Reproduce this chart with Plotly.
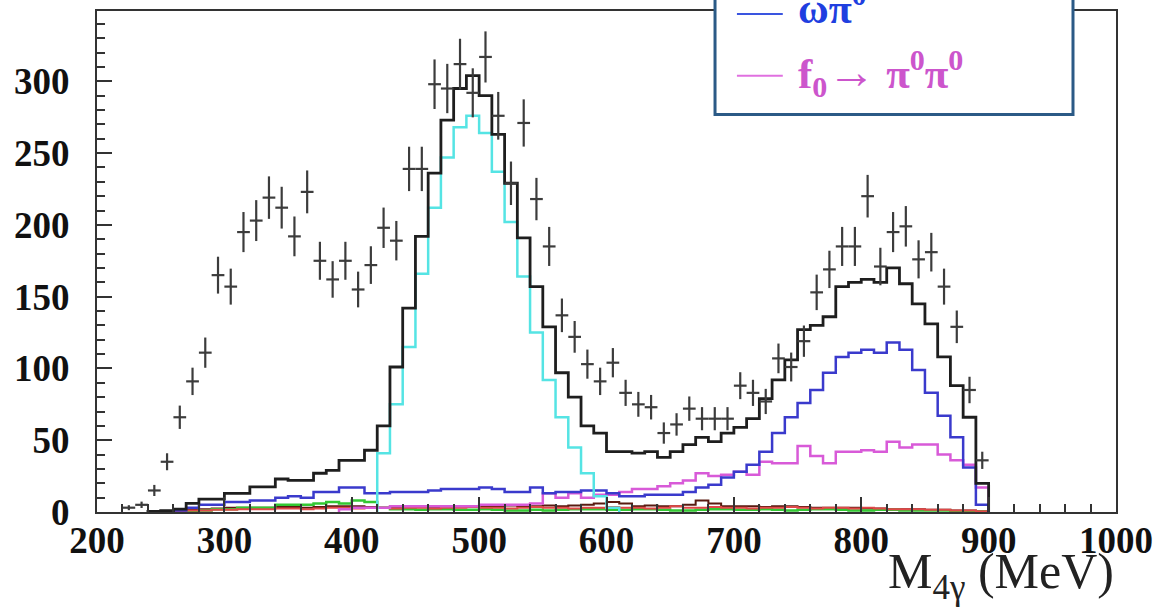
import numpy as np
import plotly.graph_objects as go

# ---- histogram binning (MeV) ----
bin_lo = list(range(200, 900, 10))
BIN_W = 10

# Monte Carlo total
mc_total = [0, 0, 0, 0, 0.5, 1, 2, 6, 9, 9,
            13, 13, 17.5, 17.5, 23, 22, 22, 27, 29, 36,
            36, 43, 60, 101, 142, 192, 236, 273, 295, 304,
            290, 263, 229, 191, 157, 129, 97, 80, 60, 55,
            42, 42, 41, 42, 38, 42, 47, 52, 49, 55,
            59, 65, 79, 92, 106, 127, 130, 136, 157, 160,
            162, 160, 170, 159, 145, 131, 108, 88, 66, 20]

# peaking component around 500 MeV
mc_cyan = [0] * 22 + [41, 75, 115, 166, 212, 247, 268, 276, 264, 237,
                      202, 164, 125, 92, 66, 45, 27, 11, 3] + [0] * 29

# omega pi0
mc_omega = [0, 0, 0, 0, 0, 0, 1, 3, 5, 5,
            7, 7, 8, 8, 10, 11, 10, 14, 14, 17,
            17, 13, 13, 14, 14, 14, 15, 16, 16, 16,
            17, 16, 14, 14, 17, 13, 14, 14, 15, 15,
            13, 11, 11, 12, 12, 12, 14, 17, 19, 24,
            28, 33, 42, 55, 66, 76, 85, 97, 108, 111,
            113, 111, 118, 113, 99, 83, 67, 52, 31, 5]

# f0 -> pi0 pi0
mc_f0 = [0] * 19 + [2, 3, 3, 3, 4, 4, 4, 4, 4, 4,
                    4, 5, 5, 5, 5, 6,
                    13, 10, 13, 10, 12, 12, 14, 16, 16, 18,
                    20, 22, 27, 25, 26, 28, 26, 35, 34, 34,
                    46, 39, 34, 42, 42, 43, 42, 49, 45, 47,
                    47, 40, 36, 33, 17]

# small backgrounds
mc_green = [0] * 7 + [0.5, 1, 2, 2, 3, 3, 3, 5, 5, 5, 6, 7, 6, 8, 7, 3,
                      2, 2, 1.5, 2, 2, 1.5, 1.5, 2, 1.5, 1,
                      1, 1.5, 1, 1.5, 2, 2, 2, 1.5, 1.5, 2,
                      2, 1.5, 1, 1, 1.5, 2, 2, 1.5, 1.5, 2,
                      1.5, 1, 1.5, 2, 2, 1.5, 1, 1, 1.5, 1.5,
                      1, 1, 1, 1, 0.5, 0.5, 0.5]
mc_red = [0] * 6 + [0.5, 1, 1, 1.5, 1.5, 2, 2, 2, 2.5, 2.5, 2, 2.5, 3, 3,
                    2.5, 3, 3, 2.5, 3, 3, 2.5, 3, 3, 3.5,
                    3, 3, 2.5, 3, 3.5, 3, 3, 2.5, 3, 3,
                    3.5, 3, 3, 2.5, 3, 4, 3, 3, 3.5, 3,
                    3, 2.5, 3, 3, 3.5, 3, 2.5, 3, 3, 2.5,
                    3, 2.5, 2, 2, 2, 1.5, 1.5, 1, 1, 0.5]
mc_dark = [0] * 5 + [0.5, 1, 2, 2, 2.5, 3, 3, 3, 3, 3.5, 3.5, 3, 3.5, 4, 4,
                     4, 3.5, 3, 3, 3, 3.5, 3.5, 3.5, 4, 4,
                     4, 4, 4.5, 4, 4, 4.5, 4, 4.5, 5, 6,
                     7, 6, 4, 4.5, 4, 4, 5, 8, 6, 4,
                     4, 4, 3.5, 4, 4, 3.5, 3, 3, 3, 3,
                     2.5, 2.5, 2, 2, 2, 1.5, 1.5, 1, 1, 0.5]

# measured spectrum
data_x = list(range(225, 900, 10))
data_y = [3, 5, 15, 35, 66, 91, 111, 165, 157, 195,
          203, 219, 212, 192, 223, 175, 162, 175, 155, 172,
          198, 189, 239, 239, 298, 295, 312, 292, 317, 276,
          229, 271, 218, 185, 137, 122, 103, 91, 104, 83,
          75, 73, 55, 61, 72, 65, 65, 65, 88, 83,
          77, 107, 101, 119, 153, 169, 185, 185, 220, 171,
          195, 199, 176, 181, 157, 129, 85, 36]

x_ticks = [200, 300, 400, 500, 600, 700, 800, 900, 1000]
y_ticks = [0, 50, 100, 150, 200, 250, 300]

SERIF = "Liberation Serif"


def step_trace(values, color, width=2.5):
    """Outline histogram drawn as an hv step line over the non-empty bins."""
    nz = [i for i, v in enumerate(values) if v > 0]
    i0, i1 = nz[0], nz[-1]
    edges = [bin_lo[i] for i in range(i0, i1 + 1)] + [bin_lo[i1] + BIN_W]
    xs = [edges[0]] + edges
    ys = [0] + list(values[i0:i1 + 1]) + [0]
    return go.Scatter(x=xs, y=ys, mode="lines", line=dict(color=color, width=width, shape="hv"),
                      hoverinfo="skip", showlegend=False)


fig = go.Figure()
fig.add_trace(step_trace(mc_dark, "#5a1a10", 2))
fig.add_trace(step_trace(mc_green, "#33c833", 2.5))
fig.add_trace(step_trace(mc_red, "#e04848", 2))
fig.add_trace(step_trace(mc_f0, "#d85ad8"))
fig.add_trace(step_trace(mc_omega, "#3a3acc"))
fig.add_trace(step_trace(mc_cyan, "#55e4e4"))
fig.add_trace(step_trace(mc_total, "#1e1e1e", 2.8))

err = np.sqrt(np.array(data_y, dtype=float))
fig.add_trace(go.Scatter(
    x=data_x, y=data_y, mode="markers",
    marker=dict(size=1, color="#3c3c3c"),
    error_y=dict(type="data", array=err, width=0, thickness=2.2, color="#3c3c3c"),
    error_x=dict(type="constant", value=BIN_W / 2, width=0, thickness=2.2, color="#3c3c3c"),
    showlegend=False, hoverinfo="skip",
))

axis_common = dict(
    showline=True, linecolor="#333333", linewidth=2, mirror=True,
    ticks="inside", tickcolor="#333333", tickwidth=2, ticklen=15,
    showgrid=False, zeroline=False,
    tickfont=dict(family=SERIF, size=37, color="#111111", weight="bold"),
)

fig.update_xaxes(range=[200, 1000], tickvals=x_ticks, ticktext=[str(v) for v in x_ticks],
                 ticklabelstandoff=-5,
                 minor=dict(ticks="inside", dtick=20, ticklen=8, tickwidth=1.5, tickcolor="#333333"),
                 **axis_common)
fig.update_yaxes(range=[0, 349], tickvals=y_ticks, ticktext=[str(v) for v in y_ticks],
                 ticklabelstandoff=18,
                 minor=dict(ticks="inside", dtick=10, ticklen=8, tickwidth=1.5, tickcolor="#333333"),
                 **axis_common)

# legend panel (extends beyond the top edge of the canvas)
fig.add_shape(type="rect", xref="paper", yref="paper", x0=0.6065, x1=0.9578, y0=0.7932, y1=1.2,
              line=dict(color="#2b5a86", width=3), fillcolor="white", layer="above")
fig.add_shape(type="line", xref="paper", yref="paper", x0=0.628, x1=0.673, y0=0.994, y1=0.994,
              line=dict(color="#3a55e0", width=2), layer="above")
fig.add_shape(type="line", xref="paper", yref="paper", x0=0.628, x1=0.673, y0=0.871, y1=0.871,
              line=dict(color="#e070e0", width=2), layer="above")
fig.add_annotation(xref="paper", yref="paper", x=0.686, y=1.01, xanchor="left", yanchor="middle",
                   text="ωπ<sup>0</sup>", showarrow=False,
                   font=dict(family=SERIF, size=42, color="#1f3fe0", weight="bold"))
fig.add_annotation(xref="paper", yref="paper", x=0.686, y=0.875, xanchor="left", yanchor="middle",
                   text="f<sub>0</sub><span style='font-size:48px'>→</span> π<sup>0</sup>π<sup>0</sup>",
                   showarrow=False,
                   font=dict(family=SERIF, size=43, color="#cc55cc", weight="bold"))

# axis title
fig.add_annotation(xref="paper", yref="paper", x=1.0, y=-0.058, xanchor="right", yanchor="top",
                   text="M<sub>4γ</sub> (MeV)", showarrow=False,
                   font=dict(family=SERIF, size=50, color="#222222"))

fig.update_layout(
    width=1167, height=614,
    margin=dict(l=97, r=51, t=9, b=102),
    plot_bgcolor="white", paper_bgcolor="white",
    showlegend=False,
)

fig.write_html("out.html")
